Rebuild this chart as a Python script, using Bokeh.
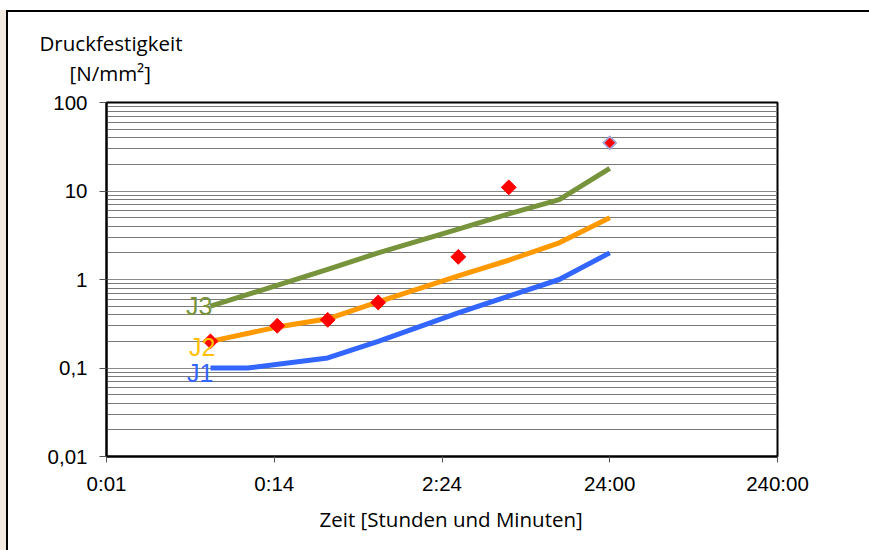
import numpy as np
from bokeh.plotting import figure
from bokeh.models import FixedTicker, Title
from bokeh.embed import file_html
from bokeh.resources import INLINE
from bokeh.core.properties import value

# ---- data (time in hours, strength in N/mm²) ----
j1_hours = [0.1, 1/6, 0.5, 1, 3, 6, 12, 24]
j1_values = [0.1, 0.1, 0.13, 0.2, 0.42, 0.65, 1.0, 2.0]
j2_hours = [0.1, 0.25, 0.5, 1, 3, 6, 12, 24]
j2_values = [0.2, 0.29, 0.36, 0.56, 1.1, 1.65, 2.6, 5.0]
j3_hours = [0.1, 0.5, 1, 3, 6, 12, 24]
j3_values = [0.5, 1.3, 2.0, 3.7, 5.5, 8.0, 18.0]
meas_hours = [0.1, 0.25, 0.5, 1, 3, 6, 24]
meas_values = [0.2, 0.3, 0.35, 0.55, 1.8, 11, 35]
series_names = ["J1", "J2", "J3"]
series_colors = ["#3366FF", "#FF9900", "#77933C"]
label_colors = ["#3366FF", "#FFC000", "#77933C"]
x_tick_values = [0.024, 0.24, 2.4, 24, 240]
x_tick_labels = ["0:01", "0:14", "2:24", "24:00", "240:00"]
y_tick_values = [0.01, 0.1, 1, 10, 100]
y_tick_labels = ["0,01", "0,1", "1", "10", "100"]
y_title = ["Druckfestigkeit", "[N/mm²]"]
x_title = "Zeit  [Stunden und Minuten]"

p = figure(frame_width=671, frame_height=354,
           x_axis_type="log", y_axis_type="log",
           x_range=(x_tick_values[0], x_tick_values[-1]),
           y_range=(y_tick_values[0], y_tick_values[-1]),
           output_backend="svg", toolbar_location=None,
           min_border_left=98, min_border_top=90,
           min_border_right=92, min_border_bottom=94)
p.styles = {"border-left": "2px solid black", "border-top": "2px solid black",
            "margin-left": "6px", "margin-top": "10px",
            "box-shadow": "-6px 0px 0px 0px #F3EAE1"}
p.background_fill_color = "white"
p.border_fill_color = "white"
p.outline_line_color = "black"
p.outline_line_width = 2

# axes
for ax in (p.xaxis[0], p.yaxis[0]):
    ax.axis_line_color = "black"
    ax.axis_line_width = 2
    ax.major_tick_in = 0
    ax.major_tick_line_color = "#555555"
    ax.minor_tick_line_color = None
    ax.major_label_text_font = "Liberation Sans"
    ax.major_label_text_font_size = "20.5px"
    ax.major_label_text_color = "black"

p.xaxis.ticker = FixedTicker(ticks=x_tick_values)
p.xaxis.major_label_overrides = dict(zip(x_tick_values, x_tick_labels))
p.xaxis.major_tick_out = 6
p.xaxis.major_label_standoff = 9
p.yaxis.ticker = FixedTicker(ticks=y_tick_values)
p.yaxis.major_label_overrides = dict(zip(y_tick_values, y_tick_labels))
p.yaxis.major_tick_out = 7
p.yaxis.major_label_standoff = 12

# grid
p.xgrid.visible = False
minor = [m * 10 ** k for k in range(-2, 2) for m in range(2, 10)]
p.ygrid.ticker = FixedTicker(ticks=y_tick_values, minor_ticks=minor)
p.ygrid.grid_line_color = "#8a8a8a"
p.ygrid.grid_line_width = 1
p.ygrid.minor_grid_line_color = "#7a7a7a"
p.ygrid.minor_grid_line_width = 1

# lines
for xs, ys, c in [(j1_hours, j1_values, series_colors[0]),
                  (j2_hours, j2_values, series_colors[1]),
                  (j3_hours, j3_values, series_colors[2])]:
    p.line(xs, ys, line_color=c, line_width=5, line_join="round")

# measured points
p.scatter(meas_hours[:-1], meas_values[:-1], marker="square", angle=np.pi / 4,
          size=10.5, fill_color="#FF0000", line_color="#FF0000")
p.scatter(meas_hours[-1:], meas_values[-1:], marker="square", angle=np.pi / 4,
          size=10, fill_color="#A59FD0", line_color="#A59FD0")
p.scatter(meas_hours[-1:], meas_values[-1:], marker="square", angle=np.pi / 4,
          size=6.5, fill_color="#FF0000", line_color="#FF0000")

# series labels next to line starts
p.text(x=[j1_hours[0], j2_hours[0], j3_hours[0]],
       y=[j1_values[0], j2_values[0], j3_values[0]],
       text=series_names, text_color=label_colors,
       x_offset=[3, 5, 2], y_offset=[5, 6, 0],
       text_align="right", text_baseline="alphabetic",
       text_font=value("Liberation Sans"), text_font_size="25px")

# titles (later-added "above" titles stack outward)
tkw = dict(align="left", text_font="Open Sans", text_font_size="20.5px",
           text_font_style="normal", text_color="black")
p.add_layout(Title(text=y_title[1], offset=-37, standoff=32, **tkw), "above")
p.add_layout(Title(text=y_title[0], offset=-67, standoff=-32, **tkw), "above")
p.add_layout(Title(text=x_title, offset=213, standoff=10, **tkw), "below")

open("out.html", "w").write(file_html(p, INLINE))
